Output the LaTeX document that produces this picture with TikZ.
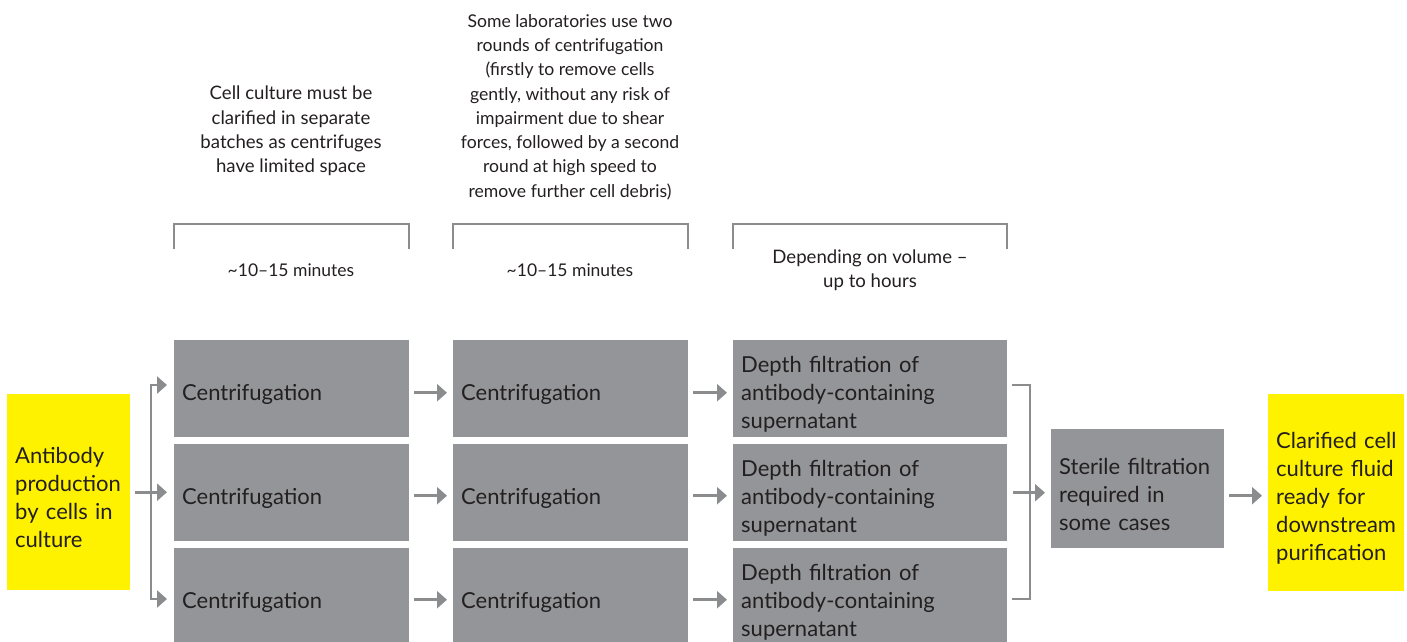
\documentclass[tikz,border=0pt]{standalone}
\usepackage{fontspec}
\setmainfont{Lato}
\usetikzlibrary{arrows.meta}
\definecolor{boxgrey}{RGB}{147,149,152}
\definecolor{hiyellow}{RGB}{255,242,0}
\definecolor{linegrey}{RGB}{138,140,142}
\definecolor{inkdark}{RGB}{35,31,32}
\tikzstyle{stage}=[fill=boxgrey, anchor=north west, inner xsep=8pt, inner ysep=0pt,
    text=inkdark, align=left, font=\fontsize{22}{28}\selectfont,
    execute at begin node={\rule{0pt}{27pt}}]
\tikzstyle{endpoint}=[stage, fill=hiyellow]
\tikzstyle{note}=[text=inkdark, align=center, font=\fontsize{17.5}{24.3}\selectfont]
\providecommand{\stage}{\node[stage]}

\begin{document}
\begin{tikzpicture}[x=1pt, y=-1pt,
    every edge/.style={draw=linegrey, line width=2.8pt,
        -{Triangle[length=10pt,width=17pt]}, shorten <=5pt, shorten >=6pt},
    bracket/.style={draw=linegrey, line width=2.2pt},
    fork/.style={draw=linegrey, line width=2.8pt,
        {Triangle[length=10pt,width=17pt]}-{Triangle[length=10pt,width=17pt]},
        shorten <=7pt, shorten >=7pt}
]
\useasboundingbox (0,0) rectangle (1407,641);
% input and output
\node[endpoint, text width=107pt, minimum height=196pt] (in) at (7,394)
    {Antibody\\production\\by cells in\\culture};
\node[endpoint, text width=120pt, minimum height=197pt] (out) at (1268,394)
    {\mbox{Clarified cell}\\culture fluid\\ready for\\downstream\\purification};
% first centrifugation
\stage[text width=219pt, minimum height=97pt] (c1a) at (174,340) {Centrifugation};
\stage[text width=219pt, minimum height=97pt] (c1b) at (174,444) {Centrifugation};
\stage[text width=219pt, minimum height=97pt] (c1c) at (174,548) {Centrifugation};
% second centrifugation
\stage[text width=219pt, minimum height=97pt] (c2a) at (453,340) {Centrifugation};
\stage[text width=219pt, minimum height=97pt] (c2b) at (453,444) {Centrifugation};
\stage[text width=219pt, minimum height=97pt] (c2c) at (453,548) {Centrifugation};
% depth filtration
\stage[text width=258pt, minimum height=97pt] (d1) at (733,340)
    {Depth filtration of\\antibody-containing\\supernatant};
\stage[text width=258pt, minimum height=97pt] (d2) at (733,444)
    {Depth filtration of\\antibody-containing\\supernatant};
\stage[text width=258pt, minimum height=97pt] (d3) at (733,548)
    {Depth filtration of\\antibody-containing\\supernatant};
\stage[text width=157pt, minimum height=119pt] (sterile) at (1051,429)
    {Sterile filtration\\required in\\some cases};
% notes above the columns
\node[note, font=\fontsize{18.6}{24.3}\selectfont] (n1) at (291,131) {Cell culture must be\\clarified in separate\\batches as centrifuges\\have limited space};
\node[note, font=\fontsize{17.6}{24.3}\selectfont] (n2) at (570,107) {Some laboratories use two\\rounds of centrifugation\\(firstly to remove cells\\gently, without any risk of\\impairment due to shear\\forces, followed by a second\\round at high speed to\\remove further cell debris)};
\node[note] (t1) at (291,270) {\textasciitilde10--15 minutes};
\node[note] (t2) at (570,270) {\textasciitilde10--15 minutes};
\node[note, font=\fontsize{18.6}{24.3}\selectfont] (t3) at (870,270) {Depending on volume --\\up to hours};
\draw[bracket] (174,249) -- (174,224) -- (409,224) -- (409,249);
\draw[bracket] (453,249) -- (453,224) -- (688,224) -- (688,249);
\draw[bracket] (733,249) -- (733,224) -- (1007,224) -- (1007,249);
% split into batches
\coordinate (splitT) at (151,385);
\coordinate (splitB) at (151,599);
\draw[fork] (splitT -| c1a.west) -- (splitT) -- (splitB) -- (splitB -| c1c.west);
% merge of filtrates
\coordinate (mergeT) at (1030,385);
\coordinate (mergeB) at (1030,599);
\draw[bracket, line width=2.5pt] ([xshift=5pt]mergeT -| d1.east) -- (mergeT) -- (mergeB) -- ([xshift=5pt]mergeB -| d3.east);
\path
(in.east) edge[shorten >=7pt] (in.east -| c1b.west)
([yshift=-4pt]c1a.east) edge ([yshift=-4pt]c1a.east -| c2a.west)
([yshift=-3pt]c1b.east) edge ([yshift=-3pt]c1b.east -| c2b.west)
([yshift=-3pt]c1c.east) edge ([yshift=-3pt]c1c.east -| c2c.west)
([yshift=-4pt]c2a.east) edge ([yshift=-4pt]c2a.east -| d1.west)
([yshift=-3pt]c2b.east) edge ([yshift=-3pt]c2b.east -| d2.west)
([yshift=-3pt]c2c.east) edge ([yshift=-3pt]c2c.east -| d3.west)
(d2.east) edge[shorten <=6pt] (d2.east -| sterile.west)
([yshift=-7pt]sterile.east) edge ([yshift=-7pt]sterile.east -| out.west)
;
\end{tikzpicture}
\end{document}
